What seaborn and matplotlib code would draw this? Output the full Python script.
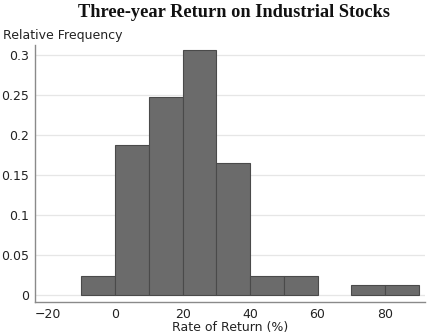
import matplotlib
matplotlib.use("Agg")
import matplotlib.pyplot as plt
import seaborn as sns
import numpy as np

# Class boundaries (rate of return, %) and relative frequency of each class
bin_edges = [-10, 0, 10, 20, 30, 40, 50, 60, 70, 80, 90]
rel_freq = [0.0235, 0.188, 0.247, 0.306, 0.165, 0.0235, 0.0235, 0.0, 0.0118, 0.0118]
x_ticks = [-20, 0, 20, 40, 60, 80]
y_ticks = [0, 0.05, 0.1, 0.15, 0.2, 0.25, 0.3]
y_tick_labels = ["0", "0.05", "0.1", "0.15", "0.2", "0.25", "0.3"]

bin_mids = [(a + b) / 2 for a, b in zip(bin_edges[:-1], bin_edges[1:])]

sns.set_theme(style="white")
plt.rcParams["font.family"] = ["DejaVu Sans"]

fig = plt.figure(figsize=(4.3, 3.33), dpi=100)
ax = fig.add_axes([0.081, 0.093, 0.907, 0.772])

ax.grid(axis="y", color="#e6e6e6", linewidth=0.9)
ax.set_axisbelow(True)

sns.histplot(x=bin_mids, weights=rel_freq, bins=bin_edges, ax=ax,
             color="#6b6b6b", edgecolor="#4a4a4a", linewidth=0.8, alpha=1.0)

# empty classes get no outline
for patch in ax.patches:
    if patch.get_height() == 0:
        patch.set_visible(False)

ax.set_xlim(-23.8, 91.8)
ax.set_ylim(-0.009, 0.3125)
ax.set_xticks(x_ticks)
ax.set_yticks(y_ticks)
ax.set_yticklabels(y_tick_labels)
ax.tick_params(axis="both", labelsize=9, labelcolor="#222222", length=2.5,
               width=0.8, direction="out", pad=1.5, color="#888888")

for side in ("top", "right"):
    ax.spines[side].set_visible(False)
for side in ("left", "bottom"):
    ax.spines[side].set_color("#8a8a8a")
    ax.spines[side].set_linewidth(1.0)

ax.set_ylabel("")
ax.set_xlabel("Rate of Return (%)", fontsize=9, color="#222222", labelpad=0.5)

fig.text(0.007, 0.874, "Relative Frequency", fontsize=9, color="#222222",
         ha="left", va="bottom")
fig.text(0.545, 0.988, "Three-year Return on Industrial Stocks",
         fontsize=13.2, fontweight="bold", family="Liberation Serif",
         color="#111111", ha="center", va="top")

fig.savefig("out.png", dpi=100)
